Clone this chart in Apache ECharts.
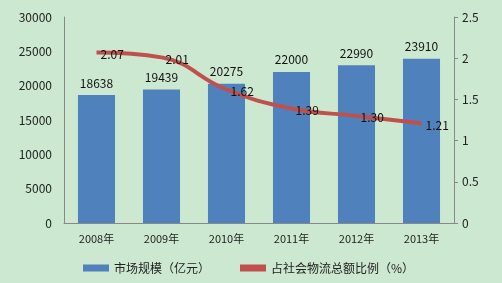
<!DOCTYPE html>
<html>
<head>
<meta charset="utf-8">
<script src="https://cdn.jsdelivr.net/npm/echarts@6/dist/echarts.min.js"></script>
<style>
html,body{margin:0;padding:0;background:#cde8d0;}
#main{width:502px;height:283px;}
</style>
</head>
<body>
<div id="main"></div>
<script>
var years = ['2008年','2009年','2010年','2011年','2012年','2013年'];
var marketSize = [18638, 19439, 20275, 22000, 22990, 23910];
var ratio = [2.07, 2.01, 1.62, 1.39, 1.30, 1.21];
var ratioLabels = ['2.07','2.01','1.62','1.39','1.30','1.21'];

var font = 'Noto Sans CJK SC';
var chart = echarts.init(document.getElementById('main'));
chart.setOption({
  backgroundColor: '#cde8d0',
  animation: false,
  textStyle: {fontFamily: font},
  grid: {left: 64, right: 48, top: 17, bottom: 60},
  legend: {
    bottom: 4,
    left: 78,
    itemGap: 30,
    itemWidth: 26,
    itemHeight: 7,
    textStyle: {fontSize: 12, color: '#222', fontFamily: font},
    data: [
      {name: '市场规模（亿元）', icon: 'rect'},
      {name: '占社会物流总额比例（%）', icon: 'rect', itemStyle: {color: '#c0504d'}}
    ]
  },
  xAxis: {
    type: 'category',
    data: years,
    axisLine: {lineStyle: {color: '#888'}},
    axisTick: {show: false},
    axisLabel: {color: '#222', fontSize: 11, margin: 10}
  },
  yAxis: [{
    type: 'value',
    min: 0, max: 30000, interval: 5000,
    axisLine: {show: true, lineStyle: {color: '#888'}},
    axisTick: {show: false},
    splitLine: {show: false},
    axisLabel: {color: '#222', fontSize: 12, margin: 12, formatter: function (v) { return String(v); }}
  }, {
    type: 'value',
    min: 0, max: 2.5, interval: 0.5,
    position: 'right',
    axisLine: {show: true, lineStyle: {color: '#888'}},
    axisTick: {show: true, length: 4, lineStyle: {color: '#888'}},
    splitLine: {show: false},
    axisLabel: {color: '#222', fontSize: 12, margin: 8}
  }],
  series: [{
    name: '市场规模（亿元）',
    type: 'bar',
    data: marketSize,
    barWidth: '57%',
    itemStyle: {color: '#4f81bd'},
    label: {show: true, position: 'top', color: '#111', fontSize: 12, distance: 6}
  }, {
    name: '占社会物流总额比例（%）',
    type: 'line',
    yAxisIndex: 1,
    data: ratio,
    smooth: 0.45,
    symbol: 'circle',
    symbolSize: 0.1,
    lineStyle: {color: '#c0504d', width: 4},
    itemStyle: {color: '#c0504d'},
    label: {
      show: true, position: 'right', color: '#111', fontSize: 12, distance: 4,
      offset: [0, 2],
      formatter: function (p) { return ratioLabels[p.dataIndex]; }
    }
  }]
});
</script>
</body>
</html>
